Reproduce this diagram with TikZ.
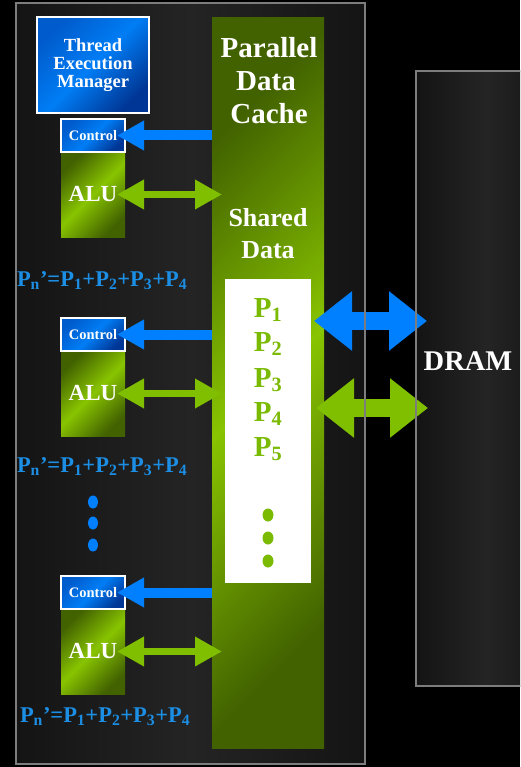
\documentclass[tikz,border=0pt]{standalone}
\usepackage{fontspec}
\setmainfont{Liberation Serif}
\usetikzlibrary{arrows.meta,calc,shapes.geometric}
\definecolor{panA}{RGB}{20,20,20}
\definecolor{panB}{RGB}{36,36,36}
\definecolor{panelline}{RGB}{125,125,125}
\definecolor{arrblue}{RGB}{0,128,255}
\definecolor{txtblue}{RGB}{28,142,228}
\definecolor{arrgreen}{RGB}{128,190,0}
\definecolor{ptxtgreen}{RGB}{122,186,0}
\definecolor{grA}{RGB}{66,98,0}
\definecolor{grB}{RGB}{136,196,0}
\definecolor{blA}{RGB}{0,92,205}
\definecolor{blB}{RGB}{0,125,245}
\definecolor{blC}{RGB}{0,55,150}
\newcommand\myfs[2]{\fontsize{#1}{#2}\selectfont}
\begin{document}
\begin{tikzpicture}[x=1pt,y=-1pt,
  every node/.style={inner sep=0pt,outer sep=0pt},
  panelbox/.style={left color=panA,right color=panA,middle color=panB},
  panelborder/.style={draw=panelline,line width=1.8pt},
  bluebox/.style={draw=white,line width=1.5pt,left color=blA,right color=blC,middle color=blB,shading angle=45,text=white,font=\bfseries},
  greenbox/.style={left color=grA,right color=grA,middle color=grB,shading angle=45,text=white,font=\bfseries},
  cachetxt/.style={text=white,font=\bfseries\myfs{29}{33},anchor=base},
  ptxt/.style={text=ptxtgreen,font=\bfseries\myfs{29}{33},anchor=base},
  sumtxt/.style={text=txtblue,font=\bfseries\myfs{22.5}{26},anchor=base west},
  ctrlarrow/.style={arrblue,line width=10pt,-{Triangle[length=27pt,width=28pt]}},
  aluarrow/.style={arrgreen,line width=7pt,{Triangle[length=27pt,width=28pt]}-{Triangle[length=27pt,width=28pt]}},
  bigarrow/.style={line width=18pt,{Triangle[length=38pt,width=57pt]}-{Triangle[length=38pt,width=57pt]}},
  gdot/.style={ellipse,fill=ptxtgreen,minimum width=11pt,minimum height=13pt},
  bdot/.style={ellipse,fill=arrblue,minimum width=10pt,minimum height=13pt}
]
\path[use as bounding box,fill=black] (0,0) rectangle (520,767);
\clip (0,0) rectangle (520,767);

% panels
\node[panelbox,anchor=north west,minimum width=349pt,minimum height=761pt] (left) at (16,3) {};
\node[panelbox,anchor=north west,minimum width=140pt,minimum height=615pt] (dram) at (416,71) {};
\node[text=white,font=\bfseries\myfs{28.5}{30},anchor=base] (dramtxt) at (468,370) {DRAM};

% thread execution manager
\node[bluebox,anchor=north west,minimum width=112pt,minimum height=96pt,align=center,font=\bfseries\myfs{18.5}{18}] (tem) at (37,17) {Thread\\Execution\\Manager};

% cache column
\node[greenbox,anchor=north west,minimum width=112pt,minimum height=730pt] (cache) at (212,18) {};
\node[cachetxt] (c1) at (269,58) {Parallel};
\node[cachetxt] (c2) at (266,91) {Data};
\node[cachetxt] (c3) at (269,124) {Cache};
\node[cachetxt,font=\bfseries\myfs{26}{30}] (s1) at (268,226) {Shared};
\node[cachetxt,font=\bfseries\myfs{26}{30}] (s2) at (268,258) {Data};

% shared data box
\node[fill=white,anchor=north west,minimum width=86pt,minimum height=304pt] (pbox) at (225,279) {};
\foreach \k/\py in {1/317,2/351,3/387,4/421,5/456}{
  \node[ptxt] (p\k) at (268,\py) {P\textsubscript{\k}};
}
\node[gdot] (gd1) at (268,515) {};
\node[gdot] (gd2) at (268,538) {};
\node[gdot] (gd3) at (268,561) {};

% processing units
\foreach \i/\yc/\sx/\sy in {1/119/17/286,2/318/17/472,3/576/20/722}{
  \node[greenbox,anchor=north west,minimum width=64pt,minimum height=85pt,font=\bfseries\myfs{23}{23}] (alu\i) at (61,\yc+33) {ALU};
  \node[bluebox,anchor=north west,minimum width=64pt,minimum height=33pt,font=\bfseries\myfs{14.5}{14}] (ctl\i) at (61,\yc) {Control};
  \node[sumtxt] (sum\i) at (\sx,\sy) {P\textsubscript{n}’=P\textsubscript{1}+P\textsubscript{2}+P\textsubscript{3}+P\textsubscript{4}};
  \draw[ctrlarrow] (cache.west |- ctl\i.east) -- ([xshift=-8pt]ctl\i.east);
  \draw[aluarrow] ([xshift=-8pt]alu\i.east) -- ([xshift=10pt]cache.west |- alu\i.east);
}

% blue dots
\node[bdot] (bd1) at (93,502) {};
\node[bdot] (bd2) at (93,523) {};
\node[bdot] (bd3) at (93,545) {};

% big arrows to DRAM
\coordinate (by) at (0,321);
\coordinate (gy) at (0,408);
\draw[bigarrow,arrblue] ([xshift=3pt]pbox.east |- by) -- ([xshift=11pt]dram.west |- by);
\draw[bigarrow,arrgreen] ([xshift=5pt]pbox.east |- gy) -- ([xshift=12pt]dram.west |- gy);

% panel borders on top
\draw[panelborder] (left.north west) rectangle (left.south east);
\draw[panelborder] (dram.north east) -- (dram.north west) -- (dram.south west) -- (dram.south east);
\end{tikzpicture}
\end{document}
